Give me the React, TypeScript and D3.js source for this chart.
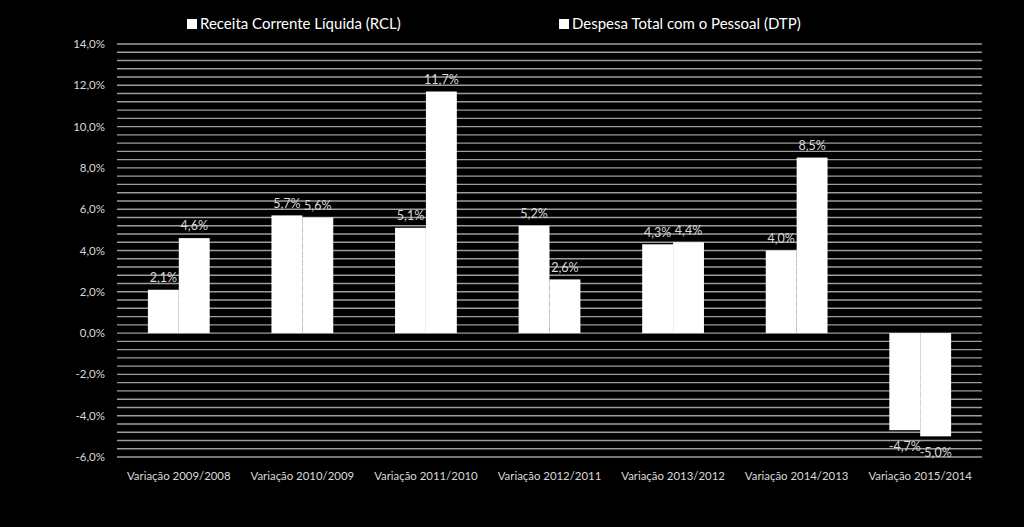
import React from "react";
import * as d3 from "d3";

const categories = [
  "Variação 2009/2008",
  "Variação 2010/2009",
  "Variação 2011/2010",
  "Variação 2012/2011",
  "Variação 2013/2012",
  "Variação 2014/2013",
  "Variação 2015/2014",
];
const seriesNames = ["Receita Corrente Líquida (RCL)", "Despesa Total com o Pessoal (DTP)"];
const rcl = [2.1, 5.7, 5.1, 5.2, 4.3, 4.0, -4.7];
const dtp = [4.6, 5.6, 11.7, 2.6, 4.4, 8.5, -5.0];
const yTicks = [14, 12, 10, 8, 6, 4, 2, 0, -2, -4, -6];

const W = 1024;
const H = 527;
const left = 117;
const right = 982;
const top = 44;
const bottom = 457;

const fmt = (v: number) => v.toFixed(1).replace(".", ",") + "%";

export default function App() {
  const x = d3.scaleBand<string>().domain(categories).range([left, right]).paddingInner(0).paddingOuter(0);
  const y = d3.scaleLinear().domain([-6, 14]).range([bottom, top]);
  const bw = x.bandwidth() * 0.25;
  const grid = d3.range(0, 51).map((i) => -6 + i * 0.4);
  const series = [rcl, dtp];
  const font = "Lato, 'Liberation Sans', sans-serif";

  return (
    <svg width={W} height={H} style={{ position: "absolute", left: 0, top: 0, background: "#000" }}>
      <rect x={0} y={0} width={W} height={H} fill="#000" />
      {grid.map((g, i) => (
        <line key={i} x1={left} x2={right} y1={y(g)} y2={y(g)} stroke="#9c9c9c" strokeWidth={1.4} />
      ))}
      {yTicks.map((t) => (
        <text key={t} x={105} y={y(t)} dy="0.35em" textAnchor="end" fill="#d9d9d9" fontSize={11.5} fontFamily={font}>
          {fmt(t)}
        </text>
      ))}
      {categories.map((c) => (
        <text key={c} x={(x(c) as number) + x.bandwidth() / 2} y={476} dy="0.35em" textAnchor="middle" fill="#d9d9d9" fontSize={11.4} fontFamily={font}>
          {c}
        </text>
      ))}
      {series.map((vals, si) =>
        vals.map((v, i) => {
          const cx = (x(categories[i]) as number) + x.bandwidth() / 2;
          const bx = cx - bw + si * bw;
          const y0 = y(0);
          const y1 = y(v);
          return (
            <g key={si + "-" + i}>
              <rect x={bx} y={Math.min(y0, y1)} width={bw} height={Math.abs(y1 - y0)} fill="#fff" />
              <text
                x={bx + bw / 2}
                y={v >= 0 ? y1 - 12 : y1 + 16}
                dy="0.35em"
                textAnchor="middle"
                fill="#d9d9d9"
                fontSize={12.5}
                fontFamily={font}
              >
                {fmt(v)}
              </text>
            </g>
          );
        })
      )}
      {seriesNames.map((n, i) => {
        const lx = i === 0 ? 187 : 559;
        return (
          <g key={n}>
            <rect x={lx} y={19} width={10} height={10} fill="#fff" />
            <text x={lx + 13} y={24} dy="0.35em" fill="#fff" fontSize={15} fontFamily={font}>
              {n}
            </text>
          </g>
        );
      })}
    </svg>
  );
}
